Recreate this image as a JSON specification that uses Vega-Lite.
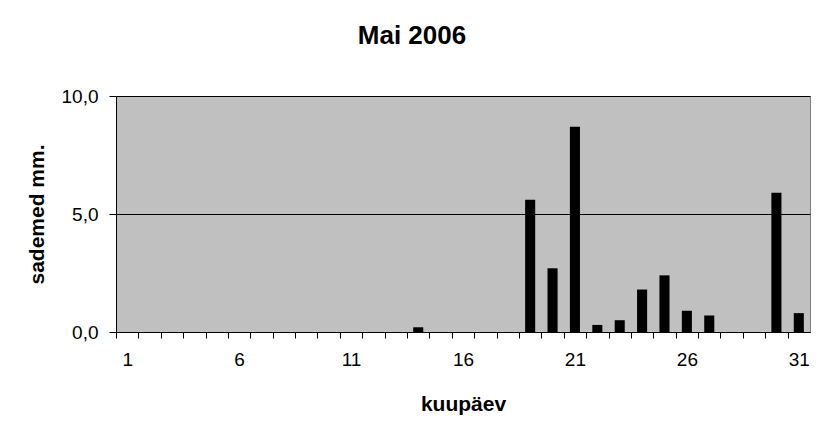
{
  "$schema": "https://vega.github.io/schema/vega-lite/v6.json",
  "autosize": {"type": "none"},
  "padding": {"left": 116, "top": 96, "right": 15, "bottom": 107},
  "width": 694,
  "height": 236,
  "background": "white",
  "title": {"text": "Mai 2006", "font": "Liberation Sans", "fontSize": 26, "fontWeight": "bold", "color": "black", "anchor": "middle", "offset": 38, "dx": -51},
  "data": {"values": [
    {"day": 1, "mm": 0}, {"day": 2, "mm": 0}, {"day": 3, "mm": 0}, {"day": 4, "mm": 0}, {"day": 5, "mm": 0},
    {"day": 6, "mm": 0}, {"day": 7, "mm": 0}, {"day": 8, "mm": 0}, {"day": 9, "mm": 0}, {"day": 10, "mm": 0},
    {"day": 11, "mm": 0}, {"day": 12, "mm": 0}, {"day": 13, "mm": 0}, {"day": 14, "mm": 0.2}, {"day": 15, "mm": 0},
    {"day": 16, "mm": 0}, {"day": 17, "mm": 0}, {"day": 18, "mm": 0}, {"day": 19, "mm": 5.6}, {"day": 20, "mm": 2.7},
    {"day": 21, "mm": 8.7}, {"day": 22, "mm": 0.3}, {"day": 23, "mm": 0.5}, {"day": 24, "mm": 1.8}, {"day": 25, "mm": 2.4},
    {"day": 26, "mm": 0.9}, {"day": 27, "mm": 0.7}, {"day": 28, "mm": 0}, {"day": 29, "mm": 0}, {"day": 30, "mm": 5.9},
    {"day": 31, "mm": 0.8}
  ]},
  "mark": {"type": "bar", "color": "black"},
  "encoding": {
    "x": {
      "field": "day", "type": "ordinal",
      "scale": {"paddingInner": 0.55, "paddingOuter": 0.275},
      "axis": {
        "title": "kuupäev", "titleFont": "Liberation Sans", "titleFontSize": 21, "titleFontWeight": "bold", "titleColor": "black", "titlePadding": 24,
        "labelAngle": 0, "labelFont": "Liberation Sans", "labelFontSize": 19, "labelColor": "black", "labelPadding": 12,
        "labelExpr": "(datum.value - 1) % 5 == 0 ? datum.label : ''",
        "bandPosition": 0, "tickOffset": -6.16, "labelOffset": 6.16,
        "domainColor": "black", "tickColor": "black", "tickSize": 6, "labelOverlap": false
      }
    },
    "y": {
      "field": "mm", "type": "quantitative",
      "scale": {"domain": [0, 10]},
      "axis": {
        "title": "sademed mm.", "titleFont": "Liberation Sans", "titleFontSize": 21, "titleFontWeight": "bold", "titleColor": "black", "titlePadding": 14,
        "values": [0, 5, 10],
        "labelExpr": "replace(format(datum.value, '.1f'), '.', ',')",
        "labelFont": "Liberation Sans", "labelFontSize": 19, "labelColor": "black", "labelPadding": 11,
        "domainColor": "black", "tickColor": "black", "tickSize": 7,
        "grid": true, "gridColor": "black", "gridOpacity": 1, "gridWidth": 1
      }
    }
  },
  "config": {
    "view": {"fill": "#C0C0C0", "stroke": "#808080", "strokeWidth": 1}
  }
}
